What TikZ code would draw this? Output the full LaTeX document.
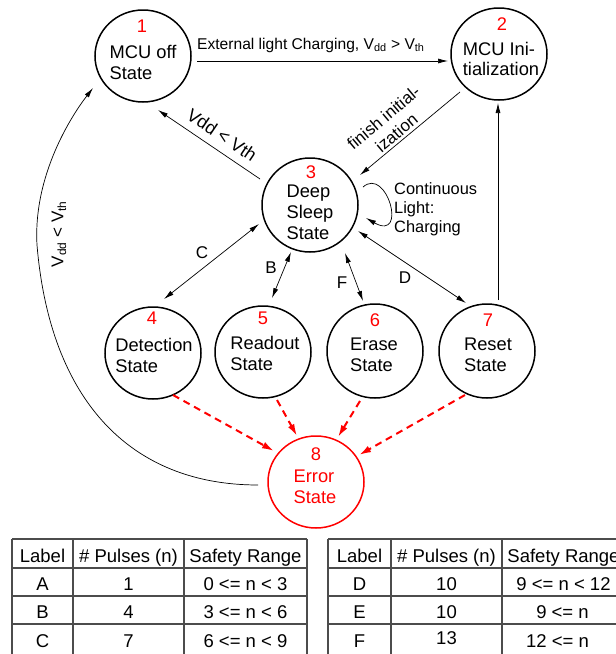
\documentclass[tikz,border=0pt]{standalone}
\usepackage{fontspec}
\setmainfont{Liberation Sans}
\usetikzlibrary{arrows.meta,shapes.geometric,calc}
\begin{document}
\begin{tikzpicture}[x=1pt,y=-1pt,
  state/.style={draw,ellipse,line width=1.5pt,minimum width=96pt,minimum height=92pt,inner sep=0pt},
  errstate/.style={state,draw=red},
  num/.style={text=red,font=\fontsize{18.3}{22}\selectfont,inner sep=0pt},
  body/.style={align=left,font=\fontsize{18.3}{21}\selectfont,inner sep=0pt},
  edge/.style={line width=0.7pt,-{Latex[length=10pt,width=5pt]}},
  bedge/.style={line width=0.7pt,{Latex[length=10pt,width=5pt]}-{Latex[length=10pt,width=5pt]}},
  redge/.style={draw=red,line width=2pt,dash pattern=on 7pt off 5pt,-{Latex[length=12pt,width=7pt]}},
  elab/.style={font=\fontsize{17}{20}\selectfont,inner sep=0pt},
  tline/.style={line width=1.3pt,draw=black!70},
  ttxt/.style={font=\fontsize{18.5}{22}\selectfont,inner sep=0pt,anchor=base}
]
\useasboundingbox (0,0) rectangle (616,654);

% states
\node[state] (n1) at (143,56) {};
\node[state] (n2) at (499,54) {};
\node[state,minimum height=94pt] (n3) at (310,205) {};
\node[state] (n4) at (153,353) {};
\node[state] (n5) at (263,352) {};
\node[state,minimum height=94pt] (n6) at (375,351) {};
\node[state,minimum height=94pt] (n7) at (487,351) {};
\node[errstate] (n8) at (316,482) {};

% numbers
\node[num] (m1) at (142,26) {1};
\node[num] (m2) at (502,24) {2};
\node[num] (m3) at (311,172) {3};
\node[num] (m4) at (152,318) {4};
\node[num] (m5) at (263,318) {5};
\node[num] (m6) at (375,320) {6};
\node[num] (m7) at (488,320) {7};
\node[num] (m8) at (316,454) {8};

% texts
\node[body] (b1) at (143,62) {MCU off\\State};
\node[body,font=\fontsize{18.3}{19.5}\selectfont] (b2) at (501,59) {MCU Ini-\\tialization};
\node[body] (b3) at (310,212) {Deep\\Sleep\\State};
\node[body] (b4) at (154,355) {Detection\\State};
\node[body] (b5) at (265,353) {Readout\\State};
\node[body] (b6) at (374,355) {Erase\\State};
\node[body] (b7) at (488,355) {Reset\\State};
\node[body,text=red] (b8) at (315,487) {Error\\State};

% connectors
\draw[edge] ([shift={(54,5)}]n1.center) -- ([shift={(-51,7)}]n2.center);
\node[elab,font=\fontsize{15.6}{18}\selectfont,anchor=base west] (l12) at (197,49)
  {External light Charging, V\textsubscript{dd} > V\textsubscript{th}};

\draw[edge] ([shift={(-39,38)}]n2.center) -- ([shift={(50,-30)}]n3.center);
\node[elab,align=center,rotate=40] (l23) at (390,125) {finish initial-\\ization};

\draw[edge] ([shift={(-50,-26)}]n3.center) -- ([shift={(15,54)}]n1.center);
\node[elab,font=\fontsize{18}{20}\selectfont,rotate=-34] (l31) at (222,135) {Vdd < Vth};

\draw[edge] ([shift={(53,-18)}]n3.center) .. controls +(24,-21) and +(42,24) .. ([shift={(56,13)}]n3.center);
\node[elab,font=\fontsize{16.4}{19}\selectfont,align=left,anchor=west] (l33) at (394,209) {Continuous\\Light:\\Charging};

\draw[bedge] ([shift={(-51,19)}]n3.center) -- ([shift={(11,-54)}]n4.center);
\node[elab] (lc) at (202,253) {C};
\draw[bedge] ([shift={(-19,47)}]n3.center) -- ([shift={(9,-54)}]n5.center);
\node[elab] (lb) at (271,268) {B};
\draw[bedge] ([shift={(35,48)}]n3.center) -- ([shift={(-12,-50)}]n6.center);
\node[elab] (lf) at (342,283) {F};
\draw[bedge] ([shift={(48,26)}]n3.center) -- ([shift={(-21,-48)}]n7.center);
\node[elab] (ld) at (405,278) {D};

\draw[edge] ([shift={(11,-51)}]n7.center) -- ([shift={(-1,49)}]n2.center);

\coordinate (c81) at (37,245);
\draw[edge] ([shift={(-58,3)}]n8.center) .. controls (130,485) and (50,400) .. (c81)
  .. controls (33,175) and (72,115) .. ([shift={(-50,32)}]n1.center);
\node[elab,rotate=90] (l81) at (59,234) {V\textsubscript{dd} < V\textsubscript{th}};

\draw[redge] ([shift={(20,42)}]n4.center) -- ([shift={(-42,-31)}]n8.center);
\draw[redge] ([shift={(14,48)}]n5.center) -- ([shift={(-19,-46)}]n8.center);
\draw[redge] ([shift={(-15,50)}]n6.center) -- ([shift={(22,-45)}]n8.center);
\draw[redge] ([shift={(-22,44)}]n7.center) -- ([shift={(43,-27)}]n8.center);

% tables
\foreach \x in {12,73,184,307,328,391,502} \draw[tline] (\x,539) -- (\x,654);
\foreach \y in {539,568,596,624} {
  \draw[tline] (12,\y) -- (307,\y);
  \draw[tline] (328,\y) -- (616,\y);
}
\node[ttxt] (h1) at (42.5,562) {Label};
\node[ttxt] (h2) at (128.5,562) {\# Pulses (n)};
\node[ttxt] (h3) at (245.5,562) {Safety Range};
\node[ttxt] (a1) at (42.5,590) {A};
\node[ttxt] (a2) at (128.5,590) {1};
\node[ttxt] (a3) at (245.5,590) {0 <= n < 3};
\node[ttxt] (bb1) at (42.5,618) {B};
\node[ttxt] (bb2) at (128.5,618) {4};
\node[ttxt] (bb3) at (245.5,618) {3 <= n < 6};
\node[ttxt] (cc1) at (42.5,647) {C};
\node[ttxt] (cc2) at (128.5,647) {7};
\node[ttxt] (cc3) at (245.5,647) {6 <= n < 9};

\node[ttxt] (h4) at (359.5,562) {Label};
\node[ttxt] (h5) at (446.5,562) {\# Pulses (n)};
\node[ttxt] (h6) at (563.5,562) {Safety Range};
\node[ttxt] (d1) at (359.5,590) {D};
\node[ttxt] (d2) at (446.5,590) {10};
\node[ttxt] (d3) at (563.5,590) {9 <= n < 12};
\node[ttxt] (e1) at (359.5,618) {E};
\node[ttxt] (e2) at (446.5,618) {10};
\node[ttxt] (e3) at (562.5,618) {9 <= n};
\node[ttxt] (f1) at (359.5,647) {F};
\node[ttxt] (f2) at (446.5,644) {13};
\node[ttxt] (f3) at (557.5,647) {12 <= n};
\end{tikzpicture}
\end{document}
